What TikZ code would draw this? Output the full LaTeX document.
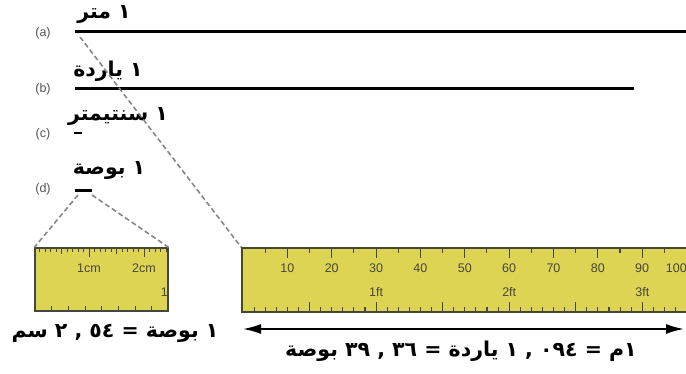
\documentclass[tikz,border=0pt]{standalone}
\usepackage{fontspec}
\setmainfont{Liberation Sans}
\newfontfamily\arabicfont[Script=Arabic]{DejaVu Sans}
\TeXXeTstate=1
\usetikzlibrary{arrows.meta}
\definecolor{rulery}{RGB}{222,212,84}
\definecolor{rulerb}{RGB}{70,70,58}
\definecolor{dashg}{RGB}{135,135,135}
\definecolor{labg}{RGB}{85,85,85}
\tikzset{
  ar/.style={font=\arabicfont\bfseries\fontsize{20.5}{24}\selectfont, inner sep=0pt},
  lab/.style={font=\fontsize{12.5}{14}\selectfont, text=labg, inner sep=0pt},
  bar/.style={line width=3pt, black},
  guide/.style={dashg, line width=1.6pt, dash pattern=on 5pt off 3pt},
  rulerbox/.style={fill=rulery, draw=rulerb, line width=1.3pt, inner sep=0pt},
  tick/.style={rulerb, line width=1.1pt},
  rnum/.style={font=\fontsize{12.5}{14}\selectfont, text=rulerb, inner sep=0pt},
  dimarrow/.style={line width=1.8pt, {Latex[length=18pt,width=10pt]}-{Latex[length=18pt,width=10pt]}},
}
\begin{document}
\begin{tikzpicture}[x=1pt,y=-1pt]
\useasboundingbox[fill=white] (0,0) rectangle (686,374);

% row labels
\node[lab] (la) at (43,33) {(a)};
\node[lab] (lb) at (43,89) {(b)};
\node[lab] (lc) at (43,134) {(c)};
\node[lab] (ld) at (43,189) {(d)};

% bars
\coordinate (a0) at (75,32);  \coordinate (a1) at (690,32);
\coordinate (b0) at (75,89);  \coordinate (b1) at (634,89);
\coordinate (c0) at (74,133); \coordinate (c1) at (82,133);
\coordinate (d0) at (75,191); \coordinate (d1) at (92,191);
\draw[bar] (a0) -- (a1);
\draw[bar] (b0) -- (b1);
\draw[bar, line width=2.5pt] (c0) -- (c1);
\draw[bar] (d0) -- (d1);

% Arabic captions
\node[ar] (ta) at (104,14) {\arabicfont\beginR ١ متر\endR};
\node[ar] (tb) at (108,71) {\arabicfont\beginR ١ ياردة\endR};
\node[ar] (tc) at (118,116) {\arabicfont\beginR ١ سنتيمتر\endR};
\node[ar] (td) at (109,170) {\arabicfont\beginR ١ بوصة\endR};

% rulers
\node[rulerbox, minimum width=133pt, minimum height=63pt] (small) at (101.5,279.5) {};
\node[rulerbox, minimum width=450pt, minimum height=64pt] (big) at (467,280) {};

% guide dashes
\coordinate (ag) at (80,37);
\coordinate (dl) at (78,195);
\coordinate (dr) at (92,195);
\draw[guide] (ag) -- (big.north west);
\draw[guide] (dl) -- (small.north west);
\draw[guide] (dr) -- (small.north east);

% small ruler ticks
\foreach \m in {1,...,24}{
  \pgfmathsetmacro{\len}{mod(\m,10)==0 ? 9 : (mod(\m,5)==0 ? 6 : 4)}
  \draw[tick, line width=0.9pt] (34+5.5*\m,248) -- ++(0,\len);
}
\foreach \k in {1,...,7}{
  \draw[tick] (35+16.7*\k,311) -- ++(0,-5);
}
\node[rnum] (cm1) at (89,268) {1cm};
\node[rnum] (cm2) at (144,268) {2cm};
\node[rnum, anchor=east] (in1) at (168,292) {1};

% big ruler ticks
\foreach \c in {5,10,...,100}{
  \pgfmathsetmacro{\len}{mod(\c,10)==0 ? 10 : 5}
  \draw[tick] (243+4.435*\c,248) -- ++(0,\len);
}
\foreach \c in {10,20,...,90}{
  \node[rnum] at (243+4.435*\c,268) {\c};
}
\node[rnum, anchor=east] (c100) at (687,268) {100};
\foreach \k in {1,...,39}{
  \pgfmathsetmacro{\len}{mod(\k,6)==0 ? 10 : 5}
  \draw[tick] (243+11.09*\k,312) -- ++(0,-\len);
}
\foreach \f in {1,2,3}{
  \node[rnum] at (243+133.1*\f,292) {\f ft};
}

% dimension arrow
\coordinate (arL) at (243,329);
\coordinate (arR) at (684,329);
\draw[dimarrow] (arL) -- (arR);

% bottom equations
\node[ar] (eq1) at (115,333) {\arabicfont\beginR ١ بوصة = \beginL٢ , ٥٤\endL{} سم\endR};
\node[ar] (eq2) at (461,351) {\arabicfont\beginR ١م = \beginL١ , ٠٩٤\endL{} ياردة = \beginL٣٩ , ٣٦\endL{} بوصة\endR};
\end{tikzpicture}
\end{document}
